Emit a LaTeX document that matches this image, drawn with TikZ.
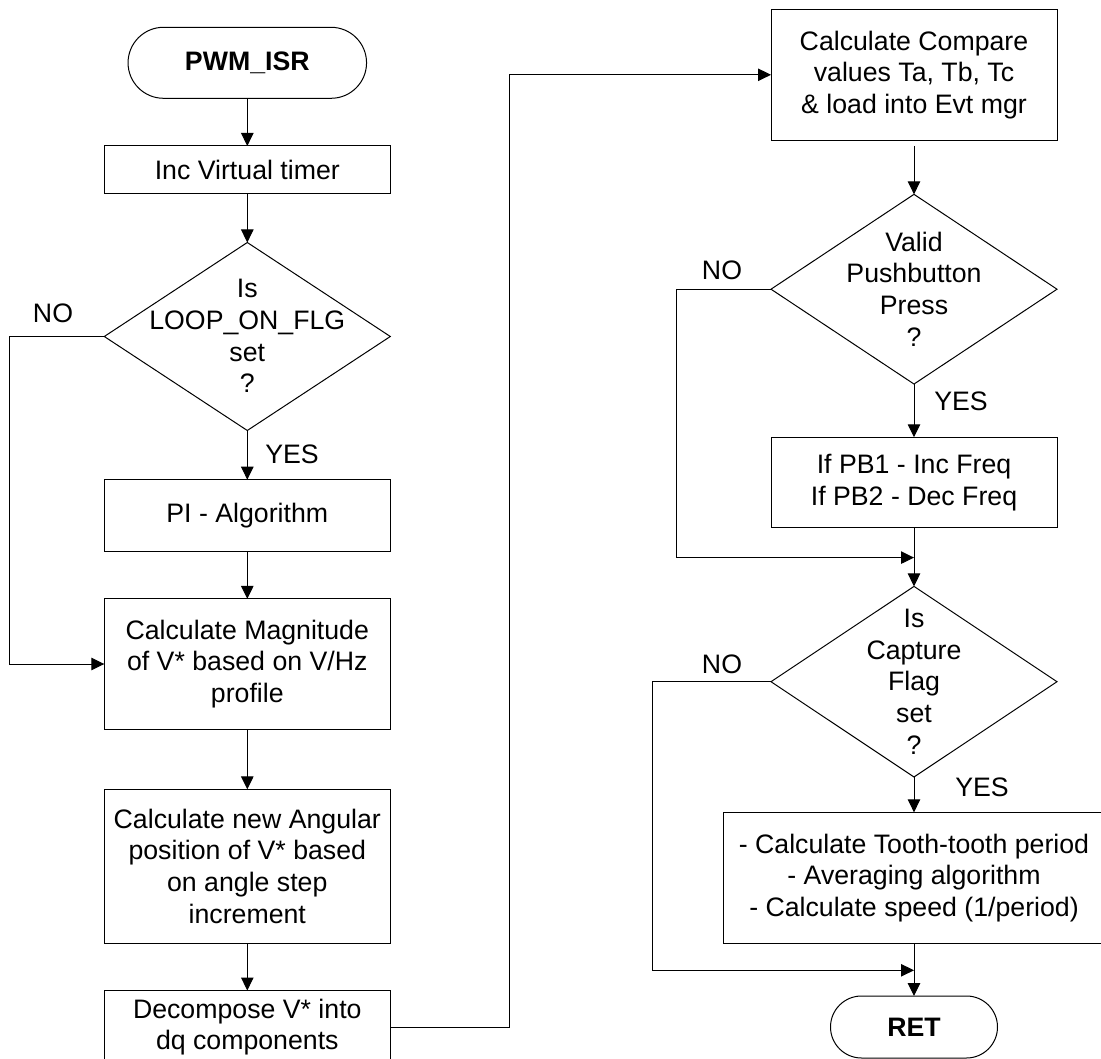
\documentclass[tikz,border=0pt]{standalone}
\usepackage{fontspec}
\setmainfont{Liberation Sans}
\usetikzlibrary{shapes.geometric,arrows.meta}
\begin{document}
\begin{tikzpicture}[x=1pt,y=-1pt,
  every node/.style={font=\fontsize{26.7}{31.7}\selectfont, inner sep=0pt, outer sep=0pt},
  proc/.style={draw, line width=1pt, rectangle, minimum width=286pt, align=center},
  term/.style={draw, line width=1pt, rectangle, rounded corners=#1, font=\fontsize{26.7}{31.7}\selectfont\bfseries},
  decision/.style={draw, line width=1pt, diamond, minimum width=286pt},
  txt/.style={align=center},
  conn/.style={line width=1pt, -{Triangle[length=13pt,width=12.5pt]}},
  wire/.style={line width=1pt}
]
\useasboundingbox (0,0) rectangle (1101,1059);
\clip (0,0) rectangle (1101,1059);

% left column
\node[term=35.5pt, minimum width=238.5pt, minimum height=71pt] (t1) at (247.3,62.8) {PWM\_ISR};
\node[proc, minimum height=48pt] (inc) at (247.3,170) {Inc Virtual timer};
\node[decision, minimum height=188pt] (d1) at (247.3,336.5) {};
\node[txt] (d1t) at (247.3,336) {Is\\LOOP\_ON\_FLG\\set\\?};
\node[proc, minimum height=71.4pt] (pi) at (247.3,515.4) {PI - Algorithm};
\node[proc, minimum height=130.3pt] (mag) at (247.3,664) {Calculate Magnitude\\of V* based on V/Hz\\profile};
\node[proc, minimum height=153.9pt] (ang) at (247.3,866.3) {Calculate new Angular\\position of V* based\\on angle step\\increment};
\node[proc, minimum height=73pt] (dec) at (247.3,1027) {Decompose V* into\\dq components};

\node (no1) at (53,313) {NO};
\node (yes1) at (292,454) {YES};

% right column
\node[proc, minimum height=131pt] (cmp) at (914,74.8) {Calculate Compare\\values Ta, Tb, Tc\\\& load into Evt mgr};
\node[decision, minimum height=189.7pt] (d2) at (914,289.2) {};
\node[txt] (d2t) at (914,289) {Valid\\Pushbutton\\Press\\?};
\node[proc, minimum height=90.3pt] (pb) at (914,482.4) {If PB1 - Inc Freq\\If PB2 - Dec Freq};
\node[decision, minimum height=190.6pt] (d3) at (914,681.7) {};
\node[txt] (d3t) at (914,681.7) {Is\\Capture\\Flag\\set\\?};
\node[proc, minimum width=381pt, minimum height=131.1pt] (cap) at (914,877.9) {- Calculate Tooth-tooth period\\- Averaging algorithm\\- Calculate speed (1/period)};
\node[term=31pt, minimum width=167pt, minimum height=62pt] (ret) at (914,1027) {RET};

\node (no2) at (722,270) {NO};
\node (yes2) at (961,401.7) {YES};
\node (no3) at (722,664.6) {NO};
\node (yes3) at (982,787.8) {YES};

% connectors left column
\draw[conn] (t1.south) -- (inc.north);
\draw[conn] (inc.south) -- (d1.north);
\draw[conn] (d1.south) -- (pi.north);
\draw[conn] (pi.south) -- (mag.north);
\draw[conn] (mag.south) -- (ang.north);
\draw[conn] (ang.south) -- (dec.north);
\coordinate (n1) at (9.3,336.5);
\draw[conn] (d1.west) -- (n1) |- (mag.west);
\coordinate (c1) at (509.3,1027);
\draw[conn] (dec.east) -- (c1) |- (cmp.west);

% connectors right column
\draw[conn] ([yshift=-5.7pt]cmp.south) -- (d2.north);
\draw[conn] (d2.south) -- (pb.north);
\draw[conn] (pb.south) -- (d3.north);
\coordinate (c2) at (676,289.2);
\coordinate (j1) at (914,557.6);
\draw[conn] (d2.west) -- (c2) |- (j1);
\draw[conn] (d3.south) -- (cap.north);
\draw[conn] (cap.south) -- (ret.north);
\coordinate (c3) at (652.5,681.7);
\coordinate (j2) at (914,970.3);
\draw[conn] (d3.west) -- (c3) |- (j2);
\end{tikzpicture}
\end{document}
